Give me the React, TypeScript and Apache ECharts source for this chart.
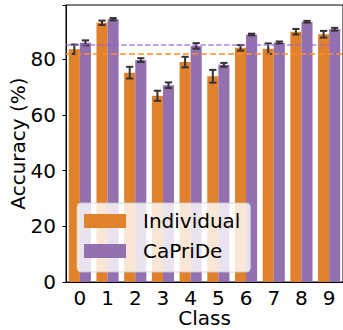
import React, { useEffect, useRef } from "react";
import * as echarts from "echarts";

const classes = ["0", "1", "2", "3", "4", "5", "6", "7", "8", "9"];
const individual = [83.6, 93.1, 75.2, 66.9, 79.0, 73.9, 84.1, 83.8, 89.9, 89.0];
const individualErr = [1.7, 0.8, 2.1, 1.8, 1.9, 2.3, 1.0, 1.9, 1.0, 1.2];
const capride = [85.9, 94.4, 79.7, 70.7, 84.8, 78.0, 88.9, 86.0, 93.5, 90.8];
const caprideErr = [0.9, 0.4, 0.7, 1.0, 1.0, 0.7, 0.3, 0.4, 0.3, 0.5];
const individualMean = 81.9;
const caprideMean = 85.4;
const yTicks = [0, 20, 40, 60, 80];

const ORANGE = "#e1812c";
const PURPLE = "#9370b0";
const FONT = "DejaVu Sans";

function errRender(sign: number) {
  return (params: any, api: any) => {
    const x = api.value(0);
    const v = api.value(1);
    const e = api.value(2);
    const band = api.size([1, 0])[0];
    const off = sign * band * 0.2;
    const top = api.coord([x, v + e]);
    const bot = api.coord([x, v - e]);
    const cx = top[0] + off;
    const cap = 3.6;
    const style = { stroke: "#333333", lineWidth: 2 };
    return {
      type: "group",
      children: [
        { type: "line", shape: { x1: cx, y1: top[1], x2: cx, y2: bot[1] }, style },
        { type: "line", shape: { x1: cx - cap, y1: top[1], x2: cx + cap, y2: top[1] }, style },
        { type: "line", shape: { x1: cx - cap, y1: bot[1], x2: cx + cap, y2: bot[1] }, style },
      ],
    };
  };
}

export default function App() {
  const ref = useRef<HTMLDivElement>(null);
  useEffect(() => {
    if (!ref.current) return;
    const chart = echarts.init(ref.current, undefined, { renderer: "svg" });
    chart.setOption({
      animation: false,
      backgroundColor: "#ffffff",
      textStyle: { fontFamily: FONT },
      grid: {
        left: 66,
        top: 5,
        right: 0,
        bottom: 48,
        containLabel: false,
        outerBoundsMode: "none",
        show: true,
        borderColor: "#000000",
        borderWidth: 1,
        backgroundColor: "transparent",
      },
      legend: {
        data: ["Individual", "CaPriDe"],
        orient: "vertical",
        left: 77,
        top: 203,
        itemWidth: 42,
        itemHeight: 14,
        itemGap: 10,
        icon: "rect",
        padding: [8, 10, 11, 7],
        backgroundColor: "rgba(255,255,255,0.8)",
        borderColor: "rgba(204,204,204,0.8)",
        borderWidth: 1,
        borderRadius: 4,
        textStyle: { fontFamily: FONT, fontSize: 20, color: "#000", padding: [0, 0, 0, 12] },
      },
      xAxis: {
        type: "category",
        data: classes,
        name: "Class",
        nameLocation: "middle",
        nameGap: 27,
        nameMoveOverlap: false,
        nameTextStyle: { fontFamily: FONT, fontSize: 20, lineHeight: 18, color: "#000" },
        axisLine: { lineStyle: { color: "#000", width: 1 } },
        axisTick: { alignWithLabel: true, length: 3.5, lineStyle: { color: "#000" } },
        axisLabel: { fontFamily: FONT, fontSize: 20, lineHeight: 18, color: "#000", margin: 7 },
        splitLine: { show: false },
      },
      yAxis: {
        type: "value",
        min: 0,
        max: 99.5,
        interval: 20,
        name: "Accuracy (%)",
        nameLocation: "middle",
        nameGap: 38,
        nameMoveOverlap: false,
        nameTextStyle: { fontFamily: FONT, fontSize: 20, color: "#000" },
        axisLine: { show: true, lineStyle: { color: "#000", width: 1 } },
        axisTick: { show: true, length: 3.5, lineStyle: { color: "#000" } },
        axisLabel: {
          fontFamily: FONT,
          fontSize: 20,
          color: "#000",
          margin: 10,
          formatter: (v: number) => (yTicks.includes(v) ? String(v) : ""),
        },
        splitLine: { show: false },
      },
      series: [
        {
          name: "Individual",
          type: "bar",
          data: individual,
          barWidth: "40%",
          barGap: "0%",
          itemStyle: { color: ORANGE },
          z: 2,
        },
        {
          name: "CaPriDe",
          type: "bar",
          data: capride,
          barWidth: "40%",
          barGap: "0%",
          itemStyle: { color: PURPLE },
          z: 2,
        },
        {
          name: "meanLines",
          type: "custom",
          renderItem: () => ({ type: "group", children: [] }),
          data: [[0, 0]],
          z: 3,
          silent: true,
          markLine: {
            silent: true,
            symbol: "none",
            label: { show: false },
            data: [
              {
                yAxis: individualMean,
                lineStyle: { color: "rgba(255,140,40,0.75)", width: 2, type: [6, 3] },
              },
              {
                yAxis: caprideMean,
                lineStyle: { color: "rgba(150,100,210,0.8)", width: 1.5, type: [5.5, 2.4] },
              },
            ],
          },
        },
        {
          name: "errIndividual",
          type: "custom",
          renderItem: errRender(-1),
          data: individual.map((v, i) => [i, v, individualErr[i]]),
          z: 4,
          silent: true,
        },
        {
          name: "errCapride",
          type: "custom",
          renderItem: errRender(1),
          data: capride.map((v, i) => [i, v, caprideErr[i]]),
          z: 4,
          silent: true,
        },
      ],
    });
    return () => chart.dispose();
  }, []);
  return (
    <div
      ref={ref}
      style={{ position: "fixed", left: 0, top: 0, width: 343, height: 330 }}
    />
  );
}
